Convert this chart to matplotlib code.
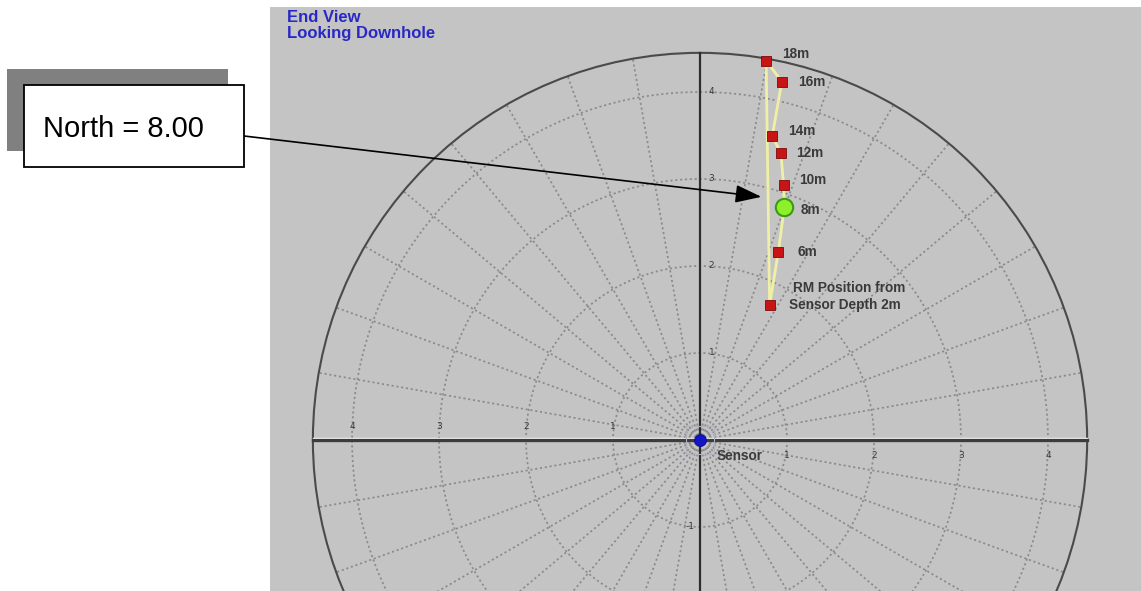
import numpy as np
import matplotlib
matplotlib.use("Agg")
import matplotlib.pyplot as plt
from matplotlib.patches import Rectangle, Circle
from matplotlib.transforms import offset_copy

# Sensor-relative position of the remote module at each depth (units from sensor)
depth_labels = ["18m", "16m", "14m", "12m", "10m", "8m", "6m", "2m"]
depths = [18, 16, 14, 12, 10, 8, 6, 2]
east = [0.76, 0.94, 0.83, 0.93, 0.96, 0.97, 0.90, 0.80]
north = [4.36, 4.12, 3.49, 3.30, 2.93, 2.68, 2.16, 1.55]
current_depth = 8

ring_ticks = [1, 2, 3, 4]
outer_radius = 4.45
spoke_step_deg = 10

W, H = 1141, 591
fig = plt.figure(figsize=(W / 100, H / 100), dpi=100, facecolor="white")

def fx(px):
    return px / W

def fy(py):
    return 1 - py / H

# Plot panel
ax = fig.add_axes([fx(270), 0, 871 / W, 584 / H])
ax.set_facecolor("#c4c4c4")
ax.set_xlim(-4.943, 5.069)
ax.set_ylim(-1.736, 4.977)
ax.set_xticks([])
ax.set_yticks([])
for s in ax.spines.values():
    s.set_visible(False)

grid_kw = dict(color="#8a8a8a", lw=1.25, linestyle=(0, (1.2, 1.6)), zorder=1)
# dotted rings
th = np.linspace(0, 2 * np.pi, 400)
for r in ring_ticks:
    ax.plot(r * np.cos(th), r * np.sin(th), **grid_kw)
# dotted spokes
for a in np.arange(0, 360, spoke_step_deg):
    t = np.deg2rad(a)
    ax.plot([0, outer_radius * np.cos(t)], [0, outer_radius * np.sin(t)], **grid_kw)

# outer boundary
ax.add_patch(Circle((0, 0), outer_radius, fill=False, ec="#4a4a4a", lw=1.5, zorder=2))

# axes lines
ax.plot([-outer_radius, outer_radius], [0.028, 0.028], color="white", lw=1.0, zorder=3)
ax.plot([-outer_radius, outer_radius], [0, 0], color="#3c3c3c", lw=2.4, zorder=3)
ax.plot([0, 0], [-1.8, outer_radius], color="#2e2e2e", lw=1.6, zorder=3)

# tick labels
tick_kw = dict(fontsize=6.5, color="#3a3a3a", ha="center", va="center", zorder=4)
for v in ring_ticks:
    ax.text(-v, 0.15, str(v), **tick_kw)
    ax.text(v, -0.18, str(v), **tick_kw)
    ax.text(0.13, v, str(v), **tick_kw)
ax.text(-0.11, -0.99, "-1", **tick_kw)

# path envelope of the module positions
ax.plot(east + [east[0]], north + [north[0]], color="#f2f2a6", lw=2.0, zorder=5, alpha=0.95)

# markers
idx = depths.index(current_depth)
for i, (x, y) in enumerate(zip(east, north)):
    if i == idx:
        ax.plot(x, y, "o", ms=12.5, mfc="#8ef02a", mec="#3c9a12", mew=1.5, zorder=7)
    else:
        ax.plot(x, y, "s", ms=7, mfc="#c81414", mec="#7a0a0a", mew=0.6, zorder=6)

# depth labels
label_offsets = {
    "18m": (16, 7), "16m": (16, 0), "14m": (16, 5), "12m": (15, 0),
    "10m": (16, 5), "8m": (16, -3), "6m": (19, 0),
}
lab_kw = dict(fontsize=9.8, fontweight="bold", color="#3a3a3a", va="center", ha="left",
              family="Liberation Sans", zorder=8)
for lab, x, y in zip(depth_labels, east, north):
    if lab in label_offsets:
        ax.annotate(lab, (x, y), xytext=label_offsets[lab], textcoords="offset pixels", **lab_kw)
ax.annotate("RM Position from", (east[-1], north[-1]), xytext=(23, 17),
            textcoords="offset pixels", **lab_kw)
ax.annotate(f"Sensor Depth {depth_labels[-1]}", (east[-1], north[-1]), xytext=(19, 0),
            textcoords="offset pixels", **lab_kw)

# sensor
ax.plot(0, 0, "s", ms=20, mfc="none", mec="#aeb0bc", mew=0.8, zorder=8)
ax.plot(0, 0, "o", ms=8.5, mfc="#1414c8", mec="#0a0a90", mew=0.6, zorder=9)
ax.annotate("Sensor", (0, 0), xytext=(17, -16), textcoords="offset pixels", **lab_kw)

# title
fig.text(fx(287), fy(10), "End View\nLooking Downhole", fontsize=12, fontweight="bold",
         color="#2828c8", ha="left", va="top", linespacing=1.1, family="Liberation Sans")

# callout box with shadow
fig.add_artist(Rectangle((fx(7), fy(151)), fx(221), 82 / H, transform=fig.transFigure,
                         fc="#808080", ec="none", zorder=10))
fig.add_artist(Rectangle((fx(24), fy(167)), fx(220), 82 / H, transform=fig.transFigure,
                         fc="white", ec="black", lw=1.3, zorder=11))
fig.text(fx(43), fy(129), f"North = {depths[idx]:.2f}", fontsize=21, color="black",
         ha="left", va="center", family="Liberation Sans", zorder=12)

# arrow from the callout to just left of the current-depth marker
tip = offset_copy(ax.transData, fig=fig, x=-23, y=10, units="dots")
ax.annotate("", xy=(east[idx], north[idx]), xycoords=tip,
            xytext=(fx(244), fy(136)), textcoords="figure fraction",
            arrowprops=dict(arrowstyle="-|>,head_length=1.6,head_width=0.55", mutation_scale=10,
                            color="black", lw=1.2, shrinkA=0, shrinkB=0),
            annotation_clip=False, zorder=12)

fig.savefig("out.png", dpi=100, facecolor="white")
